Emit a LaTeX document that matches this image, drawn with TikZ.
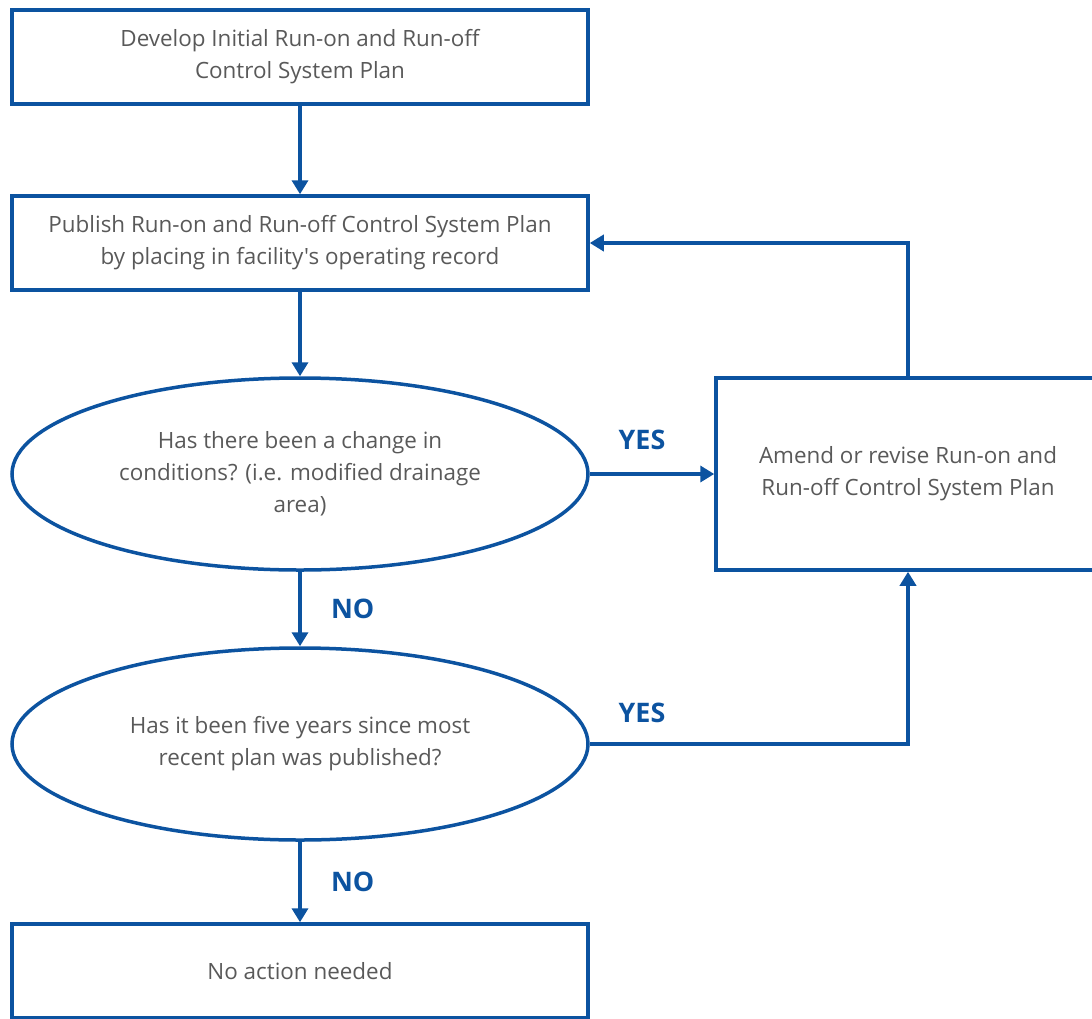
\documentclass[tikz,border=0pt]{standalone}
\usepackage{fontspec}
\setmainfont{Open Sans}[Ligatures=TeXOff]
\usetikzlibrary{arrows.meta,shapes.geometric}
\definecolor{flowblue}{RGB}{12,83,160}
\definecolor{flowgray}{RGB}{89,89,89}

\begin{document}
\begin{tikzpicture}[x=1bp, y=1bp,
  box/.style={draw=flowblue, line width=3.5bp, rectangle, minimum width=576bp, minimum height=94bp, inner sep=0pt, text=flowgray, align=center, font=\fontsize{22.5}{32}\selectfont},
  question/.style={box, ellipse, minimum height=192bp},
  answer/.style={text=flowblue, font=\fontsize{27}{30}\selectfont\bfseries},
  flow/.style={draw=flowblue, line width=3.5bp, -{Triangle[width=16bp,length=14bp]}}]
  \clip (0,0) rectangle (1092,-1019);

  \coordinate (c1) at (300,-57);
  \coordinate (c2) at (300,-243);
  \coordinate (c3) at (300,-474);
  \coordinate (c4) at (300,-744);
  \coordinate (c5) at (300,-971);
  \coordinate (c6) at (908,-474);

  \node[box] (develop) at (c1) {Develop Initial Run-on and Run-off\\Control System Plan};
  \node[box] (publish) at (c2) {Publish Run-on and Run-off Control System Plan\\by placing in facility's operating record};
  \node[question] (change) at (c3) {Has there been a change in\\conditions? (i.e. modified drainage\\area)};
  \node[question] (fiveyr) at (c4) {Has it been five years since most\\recent plan was published?};
  \node[box] (noaction) at (c5) {No action needed};
  \node[box, minimum width=384bp, minimum height=192bp] (amend) at (c6) {Amend or revise Run-on and\\Run-off Control System Plan};

  \draw[flow] (develop) -- (publish);
  \draw[flow] (publish) -- (change);
  \draw[flow] (change) -- node[answer, right=26bp] (no1) {NO} (fiveyr);
  \draw[flow] (fiveyr) -- node[answer, right=26bp] (no2) {NO} (noaction);
  \draw[flow] (change) -- (amend);
  \draw[flow] (amend.north) |- (publish.east);
  \draw[flow] (fiveyr.east) -| (amend.south);

  \node[answer] (yes1) at (642,-440) {YES};
  \node[answer] (yes2) at (642,-713) {YES};
\end{tikzpicture}
\end{document}
